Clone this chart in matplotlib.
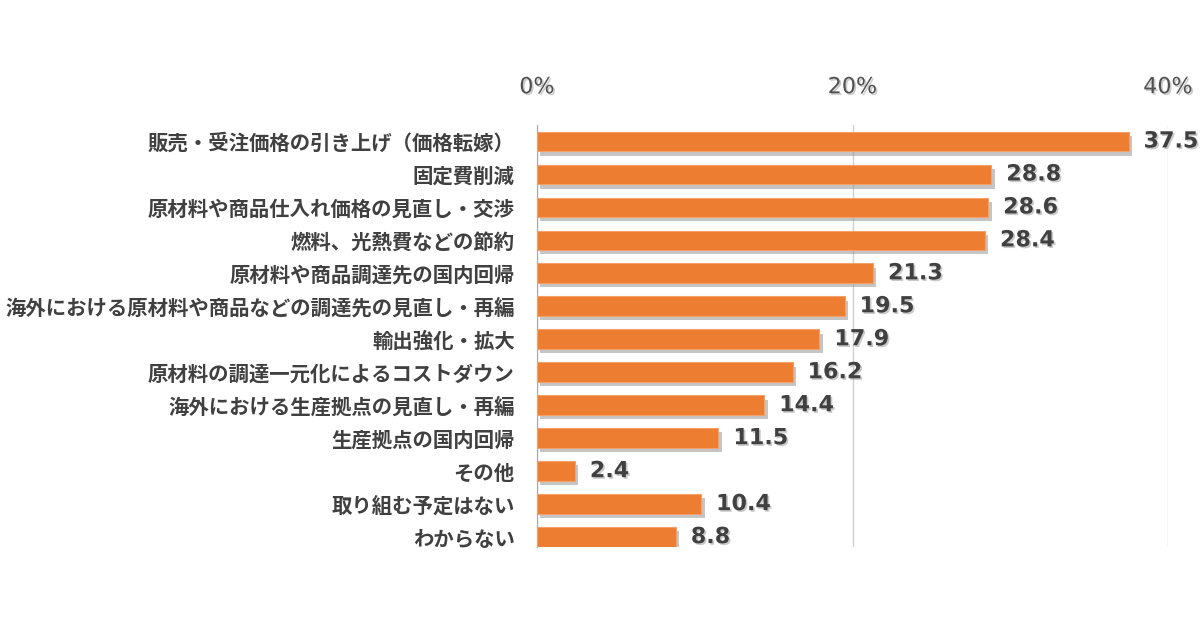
import matplotlib
matplotlib.use('Agg')
import matplotlib.pyplot as plt
import matplotlib.patheffects as pe
from matplotlib.ticker import FuncFormatter

plt.rcParams['font.family'] = ['Noto Sans CJK JP', 'DejaVu Sans']

categories = [
    '販売・受注価格の引き上げ（価格転嫁）',
    '固定費削減',
    '原材料や商品仕入れ価格の見直し・交渉',
    '燃料、光熱費などの節約',
    '原材料や商品調達先の国内回帰',
    '海外における原材料や商品などの調達先の見直し・再編',
    '輸出強化・拡大',
    '原材料の調達一元化によるコストダウン',
    '海外における生産拠点の見直し・再編',
    '生産拠点の国内回帰',
    'その他',
    '取り組む予定はない',
    'わからない',
]
values = [37.5, 28.8, 28.6, 28.4, 21.3, 19.5, 17.9, 16.2, 14.4, 11.5, 2.4, 10.4, 8.8]
xticks = [0, 20, 40]

BAR = '#ED7D31'
TXT = '#404040'

fig = plt.figure(figsize=(12, 6.3), dpi=100)
ax = fig.add_axes([537 / 1200, 1 - 547 / 630, (1168 - 537) / 1200, (547 - 125) / 630])

shadow = [pe.SimplePatchShadow(offset=(2.5, -3), shadow_rgbFace='#8c8c8c', alpha=0.5), pe.Normal()]
txt_shadow = [pe.SimplePatchShadow(offset=(1.2, -1.2), shadow_rgbFace='#a0a0a0', alpha=0.55), pe.Normal()]

ypos = list(range(len(categories)))
bars = ax.barh(ypos, values, height=0.6, color=BAR, edgecolor='#F4A06A', linewidth=0.8, zorder=3)
for b in bars:
    b.set_path_effects(shadow)

for y, v in zip(ypos, values):
    ax.text(v + 0.95, y, f'{v:.1f}', va='center', ha='left', fontsize=16, fontweight='bold',
            color=TXT, family='DejaVu Sans', path_effects=txt_shadow, clip_on=False, zorder=4)

ax.set_xlim(0, 40)
ax.set_ylim(12.3, -0.5)
ax.set_xticks(xticks)
ax.xaxis.set_major_formatter(FuncFormatter(lambda x, p: f'{x:.0f}%'))
ax.xaxis.tick_top()
ax.tick_params(axis='x', length=0, pad=20, labelsize=16, labelcolor='#505050')
for lbl in ax.get_xticklabels():
    lbl.set_family('DejaVu Sans')
    lbl.set_path_effects(txt_shadow)

ax.set_yticks(ypos)
ax.set_yticklabels(categories)
ax.tick_params(axis='y', length=0, pad=16, labelsize=14.7, labelcolor=TXT)
for lbl in ax.get_yticklabels():
    lbl.set_fontweight('bold')

ax.grid(axis='x', color='#D0D0D0', linewidth=1, zorder=0)
for s in ['top', 'right', 'bottom']:
    ax.spines[s].set_visible(False)
ax.spines['left'].set_color('#A6A6A6')

fig.savefig('out.png', dpi=100)
